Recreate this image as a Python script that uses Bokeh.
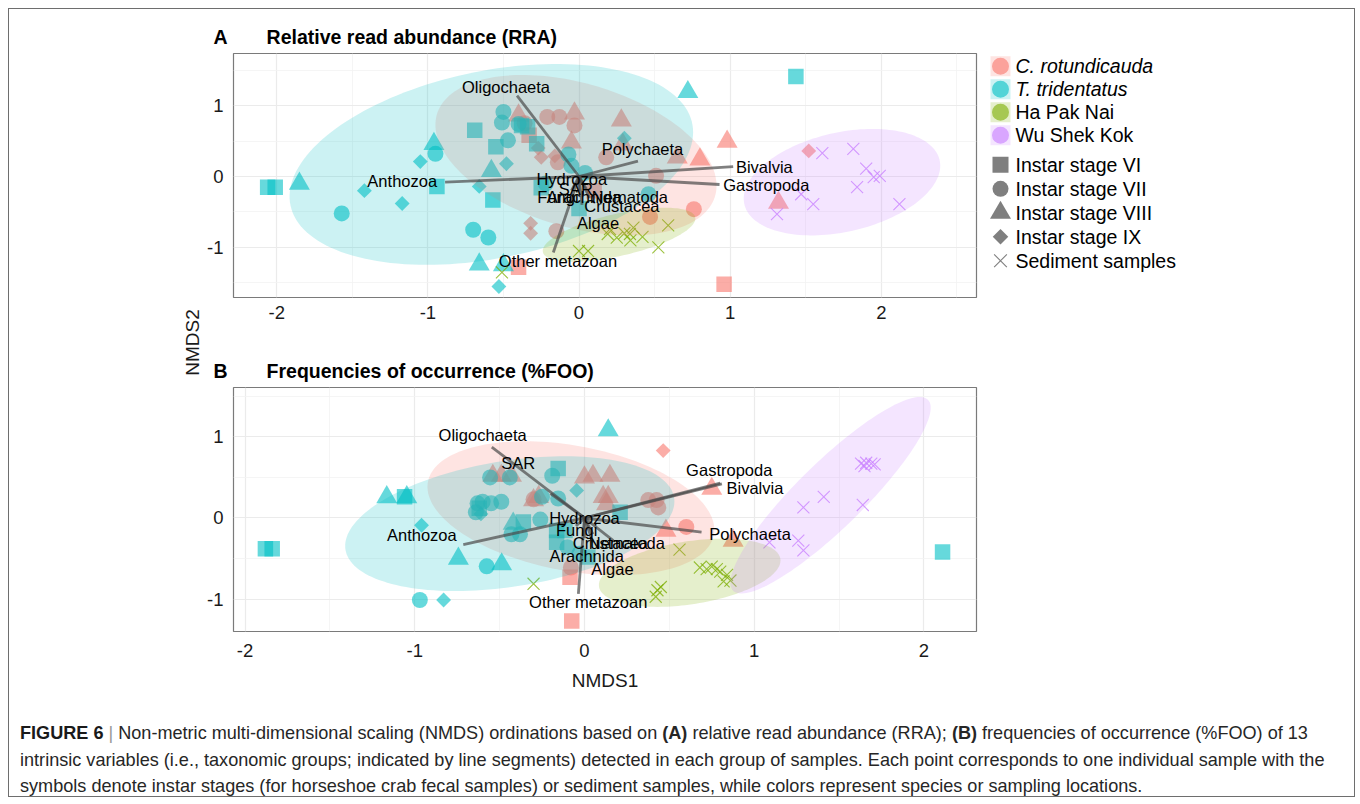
import numpy as np
from bokeh.plotting import figure
from bokeh.models import ColumnDataSource, Range1d, FixedTicker, Label, Div, Title
from bokeh.layouts import row, column
from bokeh.embed import file_html
from bokeh.resources import INLINE
from bokeh.core.properties import value

FONT = "Liberation Sans"

# ---------------- categories ----------------
GROUP_KEYS = ["rot", "tri", "hpn", "wsk"]
GROUP_NAMES = ["C. rotundicauda", "T. tridentatus", "Ha Pak Nai", "Wu Shek Kok"]
GROUP_COLORS = ["#F8766D", "#00BFC4", "#7CAE00", "#C77CFF"]
STAGE_KEYS = ["VI", "VII", "VIII", "IX", "SED"]
STAGE_NAMES = ["Instar stage VI", "Instar stage VII", "Instar stage VIII",
               "Instar stage IX", "Sediment samples"]
TAXA = ["Anthozoa", "Oligochaeta", "Polychaeta", "Bivalvia", "Gastropoda",
        "Hydrozoa", "SAR", "Fungi", "Arachnida", "Nematoda", "Crustacea",
        "Algae", "Other metazoan"]

# ---------------- panel A : RRA ----------------
A_rot_x = [-0.40, 0.96, -0.33, 0.10,
           -0.36, -0.21, -0.13, -0.03, 0.18, 0.51, 0.76, 0.47, -0.15, -0.14,
           -0.03, 0.28, -0.05, 0.65, 0.80, 0.98, 1.32, -0.40, 0.29,
           1.52, -0.25, -0.16, -0.32, -0.32, -0.27]
A_rot_y = [-1.28, -1.52, 0.58, -0.20,
           0.75, 0.84, 0.84, 0.72, 0.27, 0.01, -0.46, -0.57, -0.77, 0.20,
           0.89, 0.79, 0.48, 0.27, 0.24, 0.49, -0.37, 0.86, 0.45,
           0.36, 0.27, 0.29, -0.66, -0.80, 0.40]
A_rot_s = ["VI"] * 4 + ["VII"] * 10 + ["VIII"] * 9 + ["IX"] * 6

A_tri_x = [-2.06, -2.01, -0.94, -0.69, -0.55, -0.57, -0.38, -0.34, -0.28, -0.25, 0.00, 1.435,
           -1.57, -0.95, -0.70, -0.60, -0.50, -0.51, -0.47, -0.40, -0.07, -0.05, 0.04, -0.22, 0.46,
           -1.85, -0.96, -0.58, -0.66, -0.50, 0.72,
           -1.42, -1.17, -1.05, -0.66, -0.48, -0.53, 0.30]
A_tri_y = [-0.15, -0.15, -0.14, 0.65, 0.42, -0.33, 0.72, 0.70, 0.46, -0.16, -0.45, 1.41,
           -0.52, 0.32, -0.75, -0.86, 0.91, 0.76, 0.51, 0.74, 0.31, 0.15, 0.05, -0.10, -0.25,
           -0.10, 0.46, 0.08, -1.24, -1.25, 1.19,
           -0.20, -0.38, 0.21, -0.14, 0.18, -1.55, 0.54]
A_tri_s = ["VI"] * 12 + ["VII"] * 13 + ["VIII"] * 6 + ["IX"] * 7

A_hpn_x = [-0.51, 0.00, 0.06, 0.19, 0.205, 0.25, 0.30, 0.337, 0.36, 0.34, 0.525, 0.59, 0.42]
A_hpn_y = [-1.35, -1.05, -1.05, -0.81, -0.74, -0.86, -0.80, -0.81, -0.72, -0.90, -1.00, -0.69, -0.85]
A_hpn_s = ["SED"] * 13

A_wsk_x = [1.61, 1.815, 1.90, 1.95, 1.99, 1.84, 2.12, 1.55, 1.47, 1.31]
A_wsk_y = [0.33, 0.39, 0.11, -0.01, 0.01, -0.15, -0.39, -0.39, -0.25, -0.53]
A_wsk_s = ["SED"] * 10

# 95% ellipses: centre, half-width, half-height, correlation (group order)
A_ell_cx = [-0.02, -0.58, 0.265, 1.74]
A_ell_cy = [0.30, 0.17, -0.82, -0.08]
A_ell_hw = [0.93, 1.335, 0.505, 0.65]
A_ell_hh = [1.13, 1.415, 0.38, 0.75]
A_ell_rho = [-0.38, 0.32, 0.60, 0.31]

# fitted vectors (TAXA order) and their label positions
A_vec_x = [-0.886, -0.41, 0.39, 1.02, 0.93, -0.05, 0.00, -0.05, 0.00, 0.05, 0.07, 0.02, -0.17]
A_vec_y = [-0.08, 1.14, 0.216, 0.14, -0.113, 0.00, -0.10, -0.20, -0.20, -0.18, -0.30, -0.40, -1.07]
A_lab_x = [-0.939, -0.483, 0.42, 1.038, 0.954, -0.048, -0.021, -0.139, 0.033, 0.337, 0.284, 0.126, -0.139]
A_lab_y = [-0.07, 1.26, 0.39, 0.14, -0.113, -0.033, -0.17, -0.294, -0.294, -0.294, -0.41, -0.654, -1.19]
A_lab_al = ["right", "center", "center", "left", "left", "center", "center", "center",
            "center", "center", "center", "center", "center"]

# ---------------- panel B : %FOO ----------------
B_rot_x = [-0.075, -0.085,
           0.376, 0.425, 0.435, 0.60, -0.08, -0.30,
           -0.54, -0.49, -0.43, 0.00, 0.05, 0.15, -0.27, -0.30, 0.11, 0.14, 0.13, 0.48, 0.75, 0.876,
           0.464]
B_rot_y = [-1.27, -0.73,
           0.22, 0.22, 0.13, -0.11, -0.61, 0.23,
           0.52, 0.52, 0.52, 0.50, 0.52, 0.52, 0.26, 0.22, 0.26, 0.26, 0.17, -0.155, 0.36, -0.28,
           0.83]
B_rot_s = ["VI"] * 2 + ["VII"] * 6 + ["VIII"] * 14 + ["IX"] * 1

B_tri_x = [-1.88, -1.84, -1.06, -0.155, -0.36, -0.164, -0.115, -0.164, 0.02, 0.21, 2.11, -0.62,
           -0.97, -0.576, -0.63, -0.60, -0.55, -0.49, -0.64, -0.556, -0.44, -0.19, -0.25, -0.155,
           -0.43, -0.26, -0.10, -0.03, -0.38,
           -1.165, -1.047, -0.743, -0.488, -0.42, 0.14,
           -0.96, -0.83, -0.046, -0.61]
B_tri_y = [-0.38, -0.38, 0.26, 0.61, -0.05, -0.155, -0.155, -0.30, -0.48, 0.07, -0.42, 0.12,
           -1.01, -0.595, 0.18, 0.20, 0.18, 0.20, 0.07, 0.50, 0.50, 0.52, 0.26, 0.24,
           -0.20, -0.02, -0.36, -0.44, -0.20,
           0.257, 0.257, -0.50, -0.57, -0.07, 1.08,
           -0.09, -1.01, 0.34, 0.05]
B_tri_s = ["VI"] * 12 + ["VII"] * 17 + ["VIII"] * 6 + ["IX"] * 4

B_hpn_x = [-0.30, 0.56, 0.68, 0.72, 0.75, 0.78, 0.80, 0.84, 0.86, 0.82, 0.43, 0.45, 0.42]
B_hpn_y = [-0.81, -0.39, -0.61, -0.63, -0.60, -0.63, -0.66, -0.70, -0.77, -0.78, -0.89, -0.85, -0.97]
B_hpn_s = ["SED"] * 13

B_wsk_x = [1.63, 1.66, 1.69, 1.71, 1.65, 1.29, 1.41, 1.64, 1.26, 1.29, 1.09]
B_wsk_y = [0.67, 0.68, 0.67, 0.66, 0.64, 0.13, 0.26, 0.16, -0.28, -0.40, -0.30]
B_wsk_s = ["SED"] * 11

B_ell_cx = [-0.08, -0.44, 0.62, 1.45]
B_ell_cy = [0.12, -0.07, -0.675, 0.28]
B_ell_hw = [0.845, 0.97, 0.535, 0.59]
B_ell_hh = [0.825, 0.83, 0.42, 1.21]
B_ell_rho = [-0.32, 0.33, 0.36, 0.89]

B_vec_x = [-0.714, -0.546, 0.69, 0.81, 0.80, 0.00, -0.20, -0.05, 0.00, 0.17, 0.05, 0.05, -0.036]
B_vec_y = [-0.327, 0.874, -0.175, 0.42, 0.43, 0.00, 0.30, -0.10, -0.25, -0.28, -0.20, -0.30, -0.936]
B_lab_x = [-0.753, -0.60, 0.735, 0.837, 0.853, 0.00, -0.39, -0.046, 0.013, 0.25, 0.153, 0.165, 0.022]
B_lab_y = [-0.204, 1.02, -0.195, 0.373, 0.595, 0.00, 0.677, -0.154, -0.463, -0.31, -0.31, -0.627, -1.03]
B_lab_al = ["right", "center", "left", "left", "center", "center", "center", "center",
            "center", "center", "center", "center", "center"]

# ---------------- styling ----------------
MARKER = {"VI": "square", "VII": "circle", "VIII": "triangle", "IX": "square", "SED": "x"}
MSIZE = {"VI": 15.5, "VII": 16, "VIII": 21, "IX": 10.5, "SED": 17}
MANGLE = {"VI": 0.0, "VII": 0.0, "VIII": 0.0, "IX": np.pi / 4, "SED": 0.0}

FRAME_W, FRAME_H = 743, 244


def ellipse_xy(cx, cy, hw, hh, rho, n=160):
    t = np.linspace(0, 2 * np.pi, n)
    x = cx + hw * np.cos(t)
    y = cy + hh * (rho * np.cos(t) + np.sqrt(1 - rho ** 2) * np.sin(t))
    return x.tolist(), y.tolist()


def style_axes(p, xticks, xminor, yticks, yminor, xstand):
    p.xaxis.ticker = FixedTicker(ticks=xticks, minor_ticks=xminor)
    p.yaxis.ticker = FixedTicker(ticks=yticks, minor_ticks=yminor)
    for ax in (p.xaxis[0], p.yaxis[0]):
        ax.axis_line_color = None
        ax.major_tick_line_color = None
        ax.minor_tick_line_color = None
        ax.major_tick_out = 0
        ax.major_tick_in = 0
        ax.major_label_text_font = FONT
        ax.major_label_text_font_size = "18.5px"
        ax.major_label_text_color = "#1a1a1a"
        ax.major_label_overrides = {t: ("%d" % t) for t in [-2, -1, 0, 1, 2]}
    p.xaxis.major_label_standoff = xstand
    p.yaxis.major_label_standoff = 6
    for g in (p.xgrid[0], p.ygrid[0]):
        g.grid_line_color = "#EBEBEB"
        g.grid_line_width = 1.2
        g.minor_grid_line_color = "#F3F3F3"
        g.minor_grid_line_width = 0.8
    p.outline_line_color = "#7a7a7a"
    p.outline_line_width = 1.2


def draw_panel(p, data, ell, vec, lab):
    # points
    for (xs, ys, ss), col in zip(data, GROUP_COLORS):
        for st in STAGE_KEYS:
            idx = [i for i, s in enumerate(ss) if s == st]
            if not idx:
                continue
            src = ColumnDataSource(dict(x=[xs[i] for i in idx], y=[ys[i] for i in idx]))
            if st == "SED":
                p.scatter("x", "y", source=src, marker="x", size=MSIZE[st],
                          line_color=col, line_alpha=0.75, line_width=1.1)
            else:
                p.scatter("x", "y", source=src, marker=MARKER[st], size=MSIZE[st],
                          angle=MANGLE[st], fill_color=col, fill_alpha=0.6, line_color=None)
    # ellipses
    cxs, cys, hws, hhs, rhos = ell
    for i, col in enumerate(GROUP_COLORS):
        ex, ey = ellipse_xy(cxs[i], cys[i], hws[i], hhs[i], rhos[i])
        p.patch(ex, ey, fill_color=col, fill_alpha=0.2, line_color=None)
    # vectors
    vx, vy = vec
    vsrc = ColumnDataSource(dict(x0=[0.0] * len(vx), y0=[0.0] * len(vy), x1=vx, y1=vy))
    p.segment("x0", "y0", "x1", "y1", source=vsrc, line_color="#4a4a4a",
              line_alpha=0.7, line_width=2.8)
    # labels
    lx, ly, la = lab
    for al in ["left", "center", "right"]:
        idx = [i for i, a in enumerate(la) if a == al]
        if not idx:
            continue
        src = ColumnDataSource(dict(x=[lx[i] for i in idx], y=[ly[i] for i in idx],
                                    t=[TAXA[i] for i in idx]))
        p.text("x", "y", text="t", source=src, text_align=al, text_baseline="middle",
               text_font=value(FONT), text_font_size="16.5px", text_color="#000000")


def add_title(p, letter, title):
    t = Title(text=letter + "\u2003\u2003" + title, align="left", offset=-20,
              text_font=FONT, text_font_size="19.5px", text_font_style="bold",
              text_color="#000000", standoff=11.5)
    p.add_layout(t, "above")


# ---------------- panel A ----------------
pA = figure(frame_width=FRAME_W, frame_height=FRAME_H,
            x_range=Range1d(-2.286, 2.630), y_range=Range1d(-1.705, 1.733),
            min_border_left=29, min_border_right=10, min_border_top=44, min_border_bottom=50,
            output_backend="svg", toolbar_location=None,
            background_fill_color="white", border_fill_color="white")
style_axes(pA, [-2, -1, 0, 1, 2], [-2.5, -1.5, -0.5, 0.5, 1.5, 2.5],
           [-1, 0, 1], [-1.5, -0.5, 0.5, 1.5], 4)
draw_panel(pA,
           [(A_rot_x, A_rot_y, A_rot_s), (A_tri_x, A_tri_y, A_tri_s),
            (A_hpn_x, A_hpn_y, A_hpn_s), (A_wsk_x, A_wsk_y, A_wsk_s)],
           (A_ell_cx, A_ell_cy, A_ell_hw, A_ell_hh, A_ell_rho),
           (A_vec_x, A_vec_y), (A_lab_x, A_lab_y, A_lab_al))
add_title(pA, "A", "Relative read abundance (RRA)")

# ---------------- panel B ----------------
pB = figure(frame_width=FRAME_W, frame_height=FRAME_H,
            x_range=Range1d(-2.068, 2.310), y_range=Range1d(-1.398, 1.607),
            min_border_left=29, min_border_right=378, min_border_top=40, min_border_bottom=69,
            output_backend="svg", toolbar_location=None,
            background_fill_color="white", border_fill_color="white")
style_axes(pB, [-2, -1, 0, 1, 2], [-1.5, -0.5, 0.5, 1.5],
           [-1, 0, 1], [-1.5, -0.5, 0.5, 1.5], 8)
draw_panel(pB,
           [(B_rot_x, B_rot_y, B_rot_s), (B_tri_x, B_tri_y, B_tri_s),
            (B_hpn_x, B_hpn_y, B_hpn_s), (B_wsk_x, B_wsk_y, B_wsk_s)],
           (B_ell_cx, B_ell_cy, B_ell_hw, B_ell_hh, B_ell_rho),
           (B_vec_x, B_vec_y), (B_lab_x, B_lab_y, B_lab_al))
add_title(pB, "B", "Frequencies of occurrence (%FOO)")
pB.xaxis.axis_label = "NMDS1"
pB.xaxis.axis_label_text_font = FONT
pB.xaxis.axis_label_text_font_size = "19px"
pB.xaxis.axis_label_text_font_style = "normal"
pB.xaxis.axis_label_text_color = "#1a1a1a"
pB.xaxis.axis_label_standoff = 10

# ---------------- shared y title ----------------
pL = figure(width=195, height=691, x_range=Range1d(0, 1), y_range=Range1d(0, 1),
            x_axis_location=None, y_axis_location=None, min_border=0,
            output_backend="svg", toolbar_location=None, outline_line_color=None)
pL.grid.visible = False
pL.add_layout(Label(x=182.5, y=358, x_units="screen", y_units="screen", angle=np.pi / 2,
                    text="NMDS2", text_font=FONT, text_font_size="19px",
                    text_align="center", text_baseline="middle", text_color="#1a1a1a"))

# ---------------- legend (frame aligned with panel A) ----------------
LEG_W = 368
pG = figure(width=LEG_W, frame_height=FRAME_H, x_range=Range1d(0, LEG_W),
            y_range=Range1d(FRAME_H, 0),
            x_axis_location=None, y_axis_location=None,
            min_border_left=0, min_border_right=0, min_border_top=44, min_border_bottom=50,
            output_backend="svg", toolbar_location=None, outline_line_color=None)
pG.grid.visible = False
KEY_X, TXT_X = 14, 29
col_rows = [12.7 + 23 * i for i in range(len(GROUP_NAMES))]
shp_rows = [111.3 + 24 * i for i in range(len(STAGE_NAMES))]
csrc = ColumnDataSource(dict(x=[KEY_X] * 4, y=col_rows, c=GROUP_COLORS))
pG.scatter("x", "y", source=csrc, marker="square", size=20, fill_color="c",
           fill_alpha=0.2, line_color=None)
pG.scatter("x", "y", source=csrc, marker="circle", size=17, fill_color="c",
           fill_alpha=0.6, line_color=None)
for i in range(4):
    pG.text([TXT_X], [col_rows[i]], text=[GROUP_NAMES[i]], text_baseline="middle",
            text_font=value(FONT), text_font_size="19.5px", text_color="#000000",
            text_font_style="italic" if i < 2 else "normal")
GSIZE = {"VI": 16, "VII": 16, "VIII": 21, "IX": 11, "SED": 18}
for i, st in enumerate(STAGE_KEYS):
    if st == "SED":
        pG.scatter([KEY_X], [shp_rows[i]], marker="x", size=GSIZE[st],
                   line_color="#7f7f7f", line_width=1.1)
    else:
        pG.scatter([KEY_X], [shp_rows[i]], marker=MARKER[st], size=GSIZE[st],
                   angle=MANGLE[st], fill_color="#7f7f7f", line_color=None)
    pG.text([TXT_X], [shp_rows[i]], text=[STAGE_NAMES[i]], text_baseline="middle",
            text_font=value(FONT), text_font_size="19.5px", text_color="#000000")

# ---------------- caption ----------------
caption_html = (
    '<div style="font-family:\'Liberation Sans\',Arial,sans-serif;font-size:18.1px;'
    'line-height:26.5px;color:#262626;white-space:nowrap;padding:15px 0 0 6px;">'
    '<b style="color:#1a1a1a">FIGURE 6</b> <span style="color:#999">|</span> '
    'Non-metric multi-dimensional scaling (NMDS) ordinations based on <b>(A)</b> relative '
    'read abundance (RRA); <b>(B)</b> frequencies of occurrence (%FOO) of 13<br>'
    'intrinsic variables (i.e., taxonomic groups; indicated by line segments) detected in each '
    'group of samples. Each point corresponds to one individual sample with the<br>'
    'symbols denote instar stages (for horseshoe crab fecal samples) or sediment samples, '
    'while colors represent species or sampling locations.</div>'
)
cap = Div(text=caption_html, width=1345, height=96)

layout = column(
    row(pL, column(row(pA, pG), pB)),
    cap,
    width=1347, height=789,
    styles={"border": "1px solid #6e6e6e", "margin": "8px 0 0 8px"},
)

open("out.html", "w").write(file_html(layout, INLINE))
